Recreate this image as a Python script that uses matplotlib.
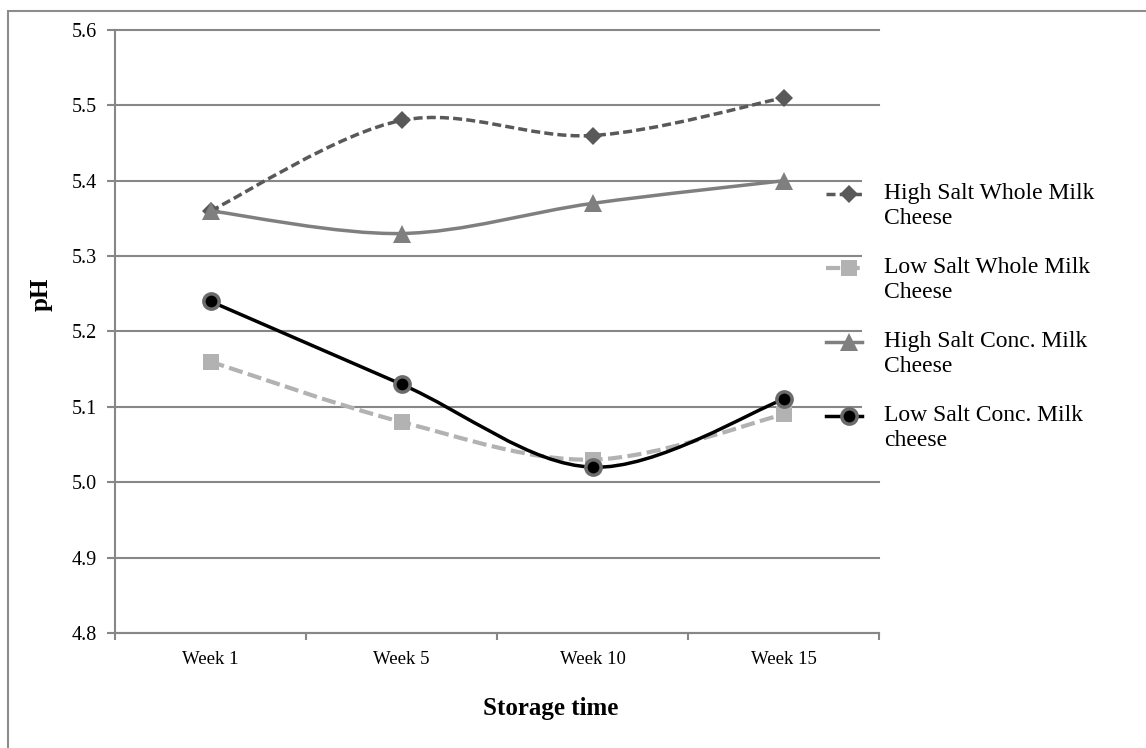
import numpy as np
import matplotlib.pyplot as plt
from matplotlib.path import Path
from matplotlib.patches import PathPatch, Rectangle
from matplotlib.lines import Line2D

plt.rcParams['font.family'] = ['Liberation Serif', 'DejaVu Serif']

# --- data ---
weeks = ["Week 1", "Week 5", "Week 10", "Week 15"]
hs_whole = [5.36, 5.48, 5.46, 5.51]
ls_whole = [5.16, 5.08, 5.03, 5.09]
hs_conc = [5.36, 5.33, 5.37, 5.40]
ls_conc = [5.24, 5.13, 5.02, 5.11]
series_labels = ["High Salt Whole Milk\nCheese", "Low Salt Whole Milk\nCheese",
                 "High Salt Conc. Milk\nCheese", "Low Salt Conc. Milk\ncheese"]
y_ticks = [4.8, 4.9, 5.0, 5.1, 5.2, 5.3, 5.4, 5.5, 5.6]

GRAY = "#878787"
W, H = 1146, 748


def fx(px):
    return px / W


def fy(py):
    return 1 - py / H


def smooth_path(xs, ys):
    """cubic bezier through the points (catmull-rom style control points)"""
    pts = np.column_stack([xs, ys]).astype(float)
    ext = np.vstack([pts[0], pts, pts[-1]])
    verts = [pts[0]]
    codes = [Path.MOVETO]
    for i in range(len(pts) - 1):
        p0, p1, p2, p3 = ext[i], ext[i + 1], ext[i + 2], ext[i + 3]
        verts += [p1 + (p2 - p0) / 6, p2 - (p3 - p1) / 6, p2]
        codes += [Path.CURVE4] * 3
    return Path(verts, codes)


styles = [
    dict(values=hs_whole, color="#595959", lw=2.5, ls=(0, (2.6, 1.2)),
         marker="D", ms=9, mfc="#595959", mec="#595959", mew=0),
    dict(values=ls_whole, color="#b2b2b2", lw=3.0, ls=(0, (3.4, 1.3)),
         marker="s", ms=12, mfc="#b2b2b2", mec="#b2b2b2", mew=0),
    dict(values=hs_conc, color="#7f7f7f", lw=2.5, ls="-",
         marker="^", ms=12.5, mfc="#7f7f7f", mec="#7f7f7f", mew=0),
    dict(values=ls_conc, color="black", lw=2.5, ls="-",
         marker="o", ms=11, mfc="black", mec="#6b6b6b", mew=2.5),
]

fig = plt.figure(figsize=(W / 100, H / 100), dpi=100)
ax = fig.add_axes([fx(115), fy(633), fx(879) - fx(115), fy(30) - fy(633)])

x = np.arange(len(weeks))
for k, st in enumerate(styles):
    patch = PathPatch(smooth_path(x, st["values"]), fill=False, edgecolor=st["color"],
                      lw=st["lw"], linestyle=st["ls"], zorder=3 + k)
    ax.add_patch(patch)
    ax.plot(x, st["values"], linestyle="none", marker=st["marker"], ms=st["ms"],
            mfc=st["mfc"], mec=st["mec"], mew=st["mew"], zorder=3.5 + k)

ax.set_xlim(-0.5, len(weeks) - 0.5)
ax.set_ylim(4.8, 5.6)
ax.set_xticks(x)
ax.set_xticklabels(weeks, fontsize=13.5)
ax.set_xticks(np.arange(len(weeks) + 1) - 0.5, minor=True)
ax.tick_params(axis="x", which="major", length=0, pad=13)
ax.tick_params(axis="x", which="minor", length=5, width=1.5, color=GRAY)
ax.set_yticks(y_ticks)
ax.set_yticklabels([f"{v:.1f}" for v in y_ticks], fontsize=14.5)
ax.tick_params(axis="y", length=6, width=1.5, color=GRAY, pad=7)

ax.yaxis.grid(True, color=GRAY, lw=1.5)
for gl in ax.get_ygridlines():
    gl.set_clip_on(False)
ax.set_axisbelow(True)
for side in ["top", "right"]:
    ax.spines[side].set_visible(False)
for side in ["left", "bottom"]:
    ax.spines[side].set_color(GRAY)
    ax.spines[side].set_linewidth(1.5)

# axis titles
fig.text(fx(41), fy(294), "pH", rotation=90, ha="center", va="center",
         fontsize=18, fontweight="bold")
fig.text(fx(551), fy(715), "Storage time", ha="center", va="baseline",
         fontsize=18, fontweight="bold")

# legend area on the right
fig.patches.append(Rectangle((fx(862), fy(465)), fx(880) - fx(862), fy(160) - fy(465),
                             transform=fig.transFigure, facecolor="white",
                             edgecolor="none", zorder=1))
for k, st in enumerate(styles):
    base = 197 + 74 * k
    yk = fy(base - 3)
    fig.lines.append(Line2D([fx(826), fx(862)], [yk, yk], transform=fig.transFigure,
                            color=st["color"], lw=st["lw"], linestyle=st["ls"], zorder=2))
    fig.lines.append(Line2D([fx(849)], [yk], transform=fig.transFigure, linestyle="none",
                            marker=st["marker"], ms=st["ms"], mfc=st["mfc"],
                            mec=st["mec"], mew=st["mew"], zorder=2.5))
    # baseline of the second line of the label
    fig.text(fx(884), fy(base + 27), series_labels[k], ha="left", va="baseline",
             fontsize=17, linespacing=1.24)

# chart border
fig.patches.append(Rectangle((fx(8), -0.2), 1.2, fy(11) + 0.2, transform=fig.transFigure,
                             fill=False, edgecolor="#8c8c8c", lw=1.5, zorder=0))

fig.savefig("out.png", dpi=100)
